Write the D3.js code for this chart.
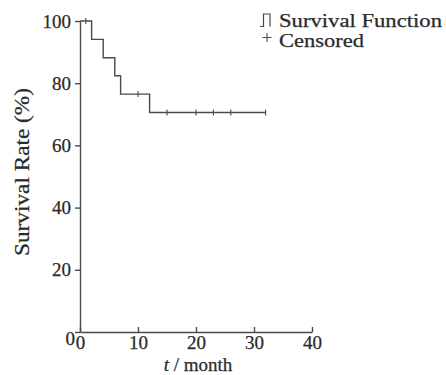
<!DOCTYPE html>
<html>
<head>
<meta charset="utf-8">
<script src="https://cdn.jsdelivr.net/npm/d3@7"></script>
<style>
  body { margin: 0; background: #fff; }
  svg { display: block; }
  svg text { font-family: "Liberation Serif", "Times New Roman", Tinos, "DejaVu Serif", serif;
             fill: #2a2a2a; stroke: #2a2a2a; stroke-width: 0.25; }
  .axis path, .axis line { stroke: #4a4a4a; stroke-width: 1.4; }
  .axis text { font-size: 19px; }
</style>
</head>
<body>
<svg id="chart" width="446" height="375"></svg>
<script>
// step times (month) and survival rate (%)
var stepTimes = [0, 2, 4, 6, 7, 12, 32];
var stepRates = [100, 94.1, 88.2, 82.4, 76.5, 70.6, 70.6];
// censored observations
var censorTimes = [1, 10, 15, 20, 23, 26, 32];
var xTicks = [0, 10, 20, 30, 40];
var yTicks = [0, 20, 40, 60, 80, 100];
var legendLabels = ["Survival Function", "Censored"];

var svg = d3.select("#chart");
var ink = "#4a4a4a";

var x = d3.scaleLinear().domain([0, 40]).range([80, 312]);
var y = d3.scaleLinear().domain([0, 100]).range([332, 21]);

// rate at time t from the step function
function rateAt(t) {
	var r = stepRates[0];
	stepTimes.forEach(function (s, i) { if (s <= t) r = stepRates[i]; });
	return r;
}

// axes
var xAxis = svg.append("g")
	.attr("class", "axis")
	.attr("transform", "translate(0," + y(0) + ")")
	.call(d3.axisBottom(x).tickValues(xTicks).tickSizeInner(-5).tickSizeOuter(0).tickPadding(10));
xAxis.selectAll("text").attr("dy", "0.71em").attr("y", 4);

var yAxis = svg.append("g")
	.attr("class", "axis")
	.attr("transform", "translate(" + x(0) + ",0)")
	.call(d3.axisLeft(y).tickValues(yTicks).tickSizeInner(5).tickSizeOuter(0).tickPadding(4));
yAxis.selectAll(".tick").filter(function (d) { return d === 0; })
	.select("text").attr("dy", "0.65em").attr("x", -5);

// survival step line
var pts = stepTimes.map(function (t, i) { return [t, stepRates[i]]; });
var line = d3.line()
	.x(function (d) { return x(d[0]); })
	.y(function (d) { return y(d[1]); })
	.curve(d3.curveStepAfter);

svg.append("path")
	.datum(pts)
	.attr("d", line)
	.attr("fill", "none")
	.attr("stroke", ink)
	.attr("stroke-width", 1.4);

// censored marks
svg.selectAll("line.cens")
	.data(censorTimes)
	.enter().append("line")
	.attr("class", "cens")
	.attr("x1", function (d) { return x(d); })
	.attr("x2", function (d) { return x(d); })
	.attr("y1", function (d) { return y(rateAt(d)) - 3; })
	.attr("y2", function (d) { return y(rateAt(d)) + 3; })
	.attr("stroke", ink)
	.attr("stroke-width", 1.1);

// axis titles
svg.append("text")
	.attr("transform", "translate(29,172) rotate(-90)")
	.attr("text-anchor", "middle")
	.attr("font-size", 20)
	.attr("textLength", 168)
	.attr("lengthAdjust", "spacingAndGlyphs")
	.text("Survival Rate (%)");

var xt = svg.append("text")
	.attr("x", 198)
	.attr("y", 371)
	.attr("text-anchor", "middle")
	.attr("font-size", 19);
xt.append("tspan").attr("font-style", "italic").text("t");
xt.append("tspan").text(" / month");

// legend
var lg = svg.append("g");
lg.append("path")
	.attr("d", "M260,26.5H263.5V14H270V26.5")
	.attr("fill", "none")
	.attr("stroke", ink)
	.attr("stroke-width", 1.2);
lg.append("path")
	.attr("d", "M262.5,37.5H271.5M267,33V42")
	.attr("fill", "none")
	.attr("stroke", ink)
	.attr("stroke-width", 1.1);
lg.selectAll("text")
	.data(legendLabels)
	.enter().append("text")
	.attr("x", 279)
	.attr("y", function (d, i) { return 27 + i * 19.5; })
	.attr("font-size", 19)
	.attr("textLength", function (d, i) { return i === 0 ? 163 : 85; })
	.attr("lengthAdjust", "spacingAndGlyphs")
	.text(function (d) { return d; });
</script>
</body>
</html>
